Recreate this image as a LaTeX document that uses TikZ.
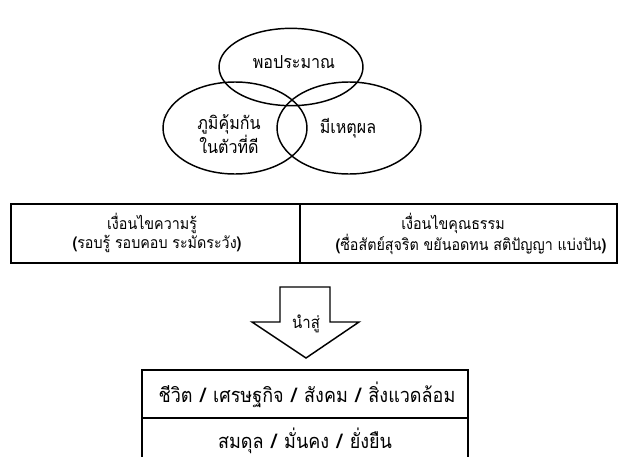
\documentclass[tikz,border=0pt]{standalone}
\usepackage{fontspec}
\newfontfamily\thaifont[Script=Thai,FakeStretch=0.9]{Loma}
\usetikzlibrary{shapes.geometric}
\tikzset{
  px/.style={x=0.75pt,y=-0.75pt},
  venn/.style={ellipse,draw,line width=1.1pt,inner sep=0pt},
  txt/.style={inner sep=0pt,align=center},
  vtxt/.style={txt,font=\thaifont\fontsize{13.4}{16.5}\selectfont},
  ttxt/.style={txt,font=\thaifont\fontsize{11.9}{14}\selectfont},
  btxt/.style={txt,font=\thaifont\fontsize{15}{18}\selectfont},
  atxt/.style={txt,font=\thaifont\fontsize{12.5}{14}\selectfont},
  frame/.style={draw,line width=1.1pt}
}
\newcommand{\bp}[1]{{\bfseries #1}}
\newcommand{\slsep}{\hspace{1.2pt}{\bfseries /}\hspace{1.2pt}}
\begin{document}
\begin{tikzpicture}[px]
\useasboundingbox (0,0) rectangle (618,457);
% Venn ellipses
\node[venn,minimum width=108pt,minimum height=58pt] (e1) at (291,67) {};
\node[venn,minimum width=108pt,minimum height=69pt] (e2) at (235,128) {};
\node[venn,minimum width=108pt,minimum height=69pt] (e3) at (349,128) {};
\node[vtxt] (l1) at (294,62) {พอประมาณ};
\node[vtxt] (l2) at (229,134) {ภูมิคุ้มกัน\\ในตัวที่ดี};
\node[vtxt] (l3) at (348,128) {มีเหตุผล};
% table
\coordinate (ta) at (11,204);
\coordinate (tb) at (617,263);
\draw[frame] (ta) rectangle (tb);
\coordinate (da) at (300,204);
\coordinate (db) at (300,263);
\draw[frame,line width=0.9pt] (da) -- (db);
\node[ttxt] (c1a) at (152,223) {เงื่อนไขความรู้};
\node[ttxt] (c1b) at (157,244) {\bp{(}รอบรู้ รอบคอบ ระมัดระวัง\bp{)}};
\node[ttxt] (c2a) at (453,223) {เงื่อนไขคุณธรรม};
\node[ttxt] (c2b) at (471,244) {\bp{(}ซื่อสัตย์สุจริต ขยันอดทน สติปัญญา แบ่งปัน\bp{)}};
% block arrow
\coordinate (a1) at (280,287);
\coordinate (a2) at (280,322);
\coordinate (a3) at (252,322);
\coordinate (a4) at (306,358);
\coordinate (a5) at (359,322);
\coordinate (a6) at (330,322);
\coordinate (a7) at (330,287);
\draw[line width=1.1pt,line join=miter] (a1) -- (a2) -- (a3) -- (a4) -- (a5) -- (a6) -- (a7) -- cycle;
\node[atxt] (ar) at (306,324) {นำสู่};
% bottom box
\coordinate (b1) at (142,457);
\coordinate (b2) at (142,370);
\coordinate (b3) at (468,370);
\coordinate (b4) at (468,457);
\coordinate (m1) at (142,418);
\coordinate (m2) at (468,418);
\draw[frame] (b1) -- (b2) -- (b3) -- (b4);
\draw[frame,line width=0.9pt] (m1) -- (m2);
\node[btxt] (r1) at (307,395) {ชีวิต \slsep{} เศรษฐกิจ \slsep{} สังคม \slsep{} สิ่งแวดล้อม};
\node[btxt] (r2) at (305,441) {สมดุล \slsep{} มั่นคง \slsep{} ยั่งยืน};
\end{tikzpicture}
\end{document}
